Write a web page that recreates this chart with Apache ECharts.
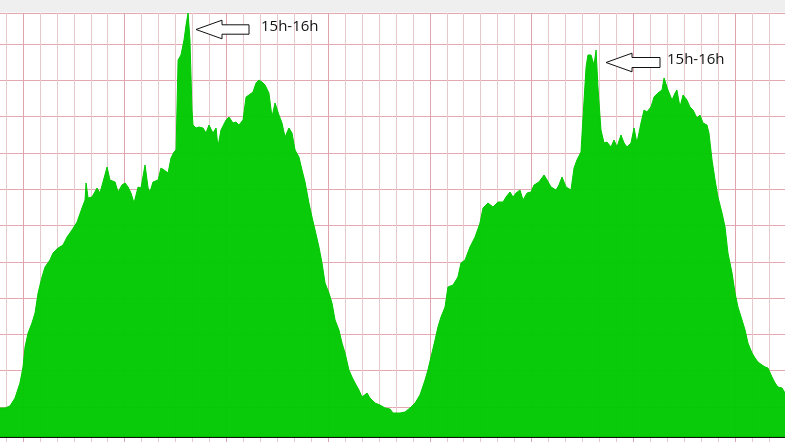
<!DOCTYPE html>
<html>
<head>
<meta charset="utf-8">
<script src="https://cdn.jsdelivr.net/npm/echarts@6/dist/echarts.min.js"></script>
<style>
html,body{margin:0;padding:0;background:#fff;}
#chart{width:785px;height:442px;}
</style>
</head>
<body>
<div id="chart"></div>
<script>
// Time of day in hours (two consecutive days, 24 = midnight of day 2)
const hours = [
  4.64,4.94,5.23,5.53,5.82,6.00,6.12,6.30,6.53,6.71,
  6.89,7.12,7.30,7.59,7.77,8.07,8.36,8.60,8.89,9.19,
  9.48,9.66,9.72,9.84,10.07,10.37,10.54,10.72,10.96,11.13,
  11.43,11.61,11.84,12.02,12.20,12.37,12.55,12.79,12.96,13.20,
  13.38,13.49,13.67,13.97,14.14,14.32,14.56,14.73,14.91,
  15.03,15.15,15.32,15.50,15.62,15.74,15.85,15.97,16.03,16.21,16.38,16.62,16.80,16.97,17.21,17.39,17.50,17.68,17.98,18.15,18.39,18.57,18.74,18.98,19.16,19.33,19.57,19.75,19.92,20.10,
  20.28,20.51,20.69,20.87,21.10,21.28,21.46,21.69,21.87,22.05,22.28,22.46,22.64,22.87,23.05,23.23,23.46,23.64,23.82,24.05,24.23,24.41,24.64,24.82,25.00,25.23,25.41,25.59,25.82,26.00,26.30,26.47,26.77,27.06,27.36,27.65,27.83,
  28.24,28.54,28.83,29.13,29.42,29.72,29.89,30.07,30.31,30.48,30.66,30.90,31.07,31.37,31.66,31.84,32.08,32.37,32.67,32.96,33.14,33.43,33.73,34.02,34.32,34.50,34.73,34.91,35.09,35.32,35.50,
  35.74,35.97,36.15,36.44,36.74,36.92,37.15,37.45,37.62,37.80,38.04,38.33,38.51,38.68,38.92,39.04,39.22,39.33,39.51,39.69,39.81,39.92,40.10,40.28,40.45,40.69,40.87,41.04,41.28,41.46,41.63,41.87,42.05,42.22,42.46,42.64,42.81,43.05,43.23,
  43.46,43.70,43.82,44.05,44.29,44.47,44.58,44.76,44.94,45.17,45.35,45.53,45.76,45.94,46.12,46.35,46.47,46.65,46.83,47.00,47.24,47.42,47.59,47.83,48.01,48.18,48.42,48.60,48.77,49.01,49.19,49.36,49.60,49.78,49.95,50.19,50.37,50.54,50.78,50.96
];
// Traffic (arbitrary units, peak ~424)
const traffic = [
  29,29,31,39,54,70,90,104,114,124,
  144,160,170,177,184,189,192,200,207,215,
  229,237,254,239,240,249,244,255,270,257,
  255,245,252,254,250,244,234,250,249,272,
  249,245,255,257,269,267,264,279,285,
  287,377,382,397,412,424,397,327,312,309,310,309,304,312,304,309,290,307,317,320,314,315,312,317,340,342,345,354,357,355,
  352,344,320,334,322,314,300,309,304,287,280,267,255,234,220,207,190,174,154,144,134,117,107,94,84,67,60,54,47,40,44,39,34,32,29,28,24,
  24,25,29,34,42,57,67,80,97,110,120,130,150,152,160,174,177,190,200,214,229,234,230,235,235,240,245,240,244,247,237,
  244,245,252,255,262,257,250,247,252,260,250,247,269,277,285,320,370,382,382,372,387,350,307,294,295,290,297,290,302,294,290,294,309,294,314,327,325,330,340,
  344,347,359,347,337,344,347,330,342,337,330,327,319,322,314,312,304,277,257,240,224,210,184,164,144,130,117,107,94,84,79,75,72,70,69,60,54,50,49,44
];
const annotationText = '15h-16h';

const n = Math.min(hours.length, traffic.length);
const seriesData = [];
for (let i = 0; i < n; i++) seriesData.push([hours[i], traffic[i]]);

const chart = echarts.init(document.getElementById('chart'), null, {renderer: 'canvas'});

function arrow(tipX, tipY, headX, headHalf, bodyHalf, endX) {
  return {
    type: 'polygon', z: 50,
    shape: { points: [
      [tipX, tipY], [headX, tipY - headHalf], [headX, tipY - bodyHalf], [endX, tipY - bodyHalf],
      [endX, tipY + bodyHalf], [headX, tipY + bodyHalf], [headX, tipY + headHalf]
    ]},
    style: { fill: '#ffffff', stroke: '#111111', lineWidth: 1 }
  };
}

const option = {
  animation: false,
  backgroundColor: '#ffffff',
  grid: [
    { left: -10.9, right: -0.75, top: 13, bottom: -1.3, show: false, outerBoundsMode: 'none', containLabel: false },
    { left: -78.7, right: -0.75, top: 13, bottom: -1.3, show: false, outerBoundsMode: 'none', containLabel: false }
  ],
  xAxis: [
    { type: 'value', gridIndex: 0, min: 4, max: 51, interval: 1,
      axisLabel: { show: false }, axisTick: { show: false },
      axisLine: { show: true, onZero: true, onZeroAxisIndex: 1, lineStyle: { color: '#111111', width: 2 } },
      splitLine: { show: true, lineStyle: { color: '#e6c9cd', width: 1 } } },
    { type: 'value', gridIndex: 1, min: 0, max: 51, interval: 6,
      axisLabel: { show: false }, axisTick: { show: false }, axisLine: { show: false },
      splitLine: { show: true, lineStyle: { color: '#dea4ab', width: 1 } } }
  ],
  yAxis: [
    { type: 'value', gridIndex: 0, min: 0, max: 118.54, interval: 10,
      axisLabel: { show: false }, axisTick: { show: false }, axisLine: { show: false },
      splitLine: { show: true, lineStyle: { color: '#e4a9b0', width: 1 } } },
    { type: 'value', gridIndex: 0, min: -6.3, max: 424,
      axisLabel: { show: false }, axisTick: { show: false }, axisLine: { show: false },
      splitLine: { show: false } },
    { type: 'value', gridIndex: 1, min: 0, max: 1, show: false, splitLine: { show: false } }
  ],
  series: [{
    type: 'line', xAxisIndex: 0, yAxisIndex: 1, data: seriesData,
    symbol: 'none', showSymbol: false, smooth: false,
    lineStyle: { color: '#00c900', width: 1 },
    areaStyle: { color: '#00c900', opacity: 0.96 },
    z: 2
  }],
  graphic: [
    { type: 'rect', z: 40, shape: { x: 0, y: 0, width: 785, height: 12.5 }, style: { fill: '#efefef' } },
    arrow(196, 29.5, 222, 9.3, 4.7, 249),
    { type: 'text', z: 50, left: 261, top: 19, style: { text: annotationText, fill: '#111111', font: '15px "Open Sans", sans-serif' } },
    arrow(606, 62.5, 632, 9.3, 5, 660),
    { type: 'text', z: 50, left: 667, top: 52, style: { text: annotationText, fill: '#111111', font: '15px "Open Sans", sans-serif' } }
  ]
};
chart.setOption(option);
</script>
</body>
</html>
